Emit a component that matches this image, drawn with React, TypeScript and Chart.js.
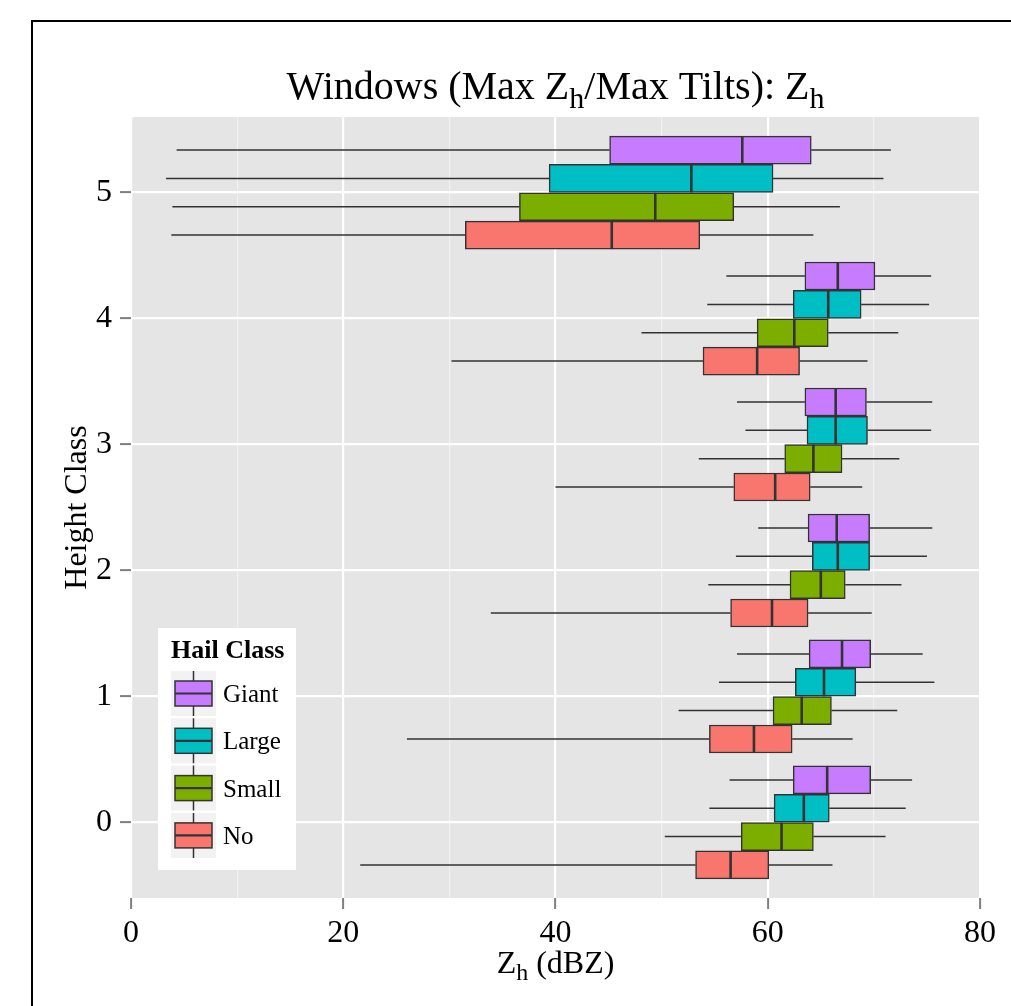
import React, { useEffect, useRef } from 'react';
import { Chart, registerables } from 'chart.js';

Chart.register(...registerables);

// ---------- data ----------
const heightClasses = [0, 1, 2, 3, 4, 5];
const hailClasses = ['No', 'Small', 'Large', 'Giant'];
const hailColors = ['#F8766D', '#7CAE00', '#00BFC4', '#C77CFF'];
const dodgeOffsets = [-0.3375, -0.1125, 0.1125, 0.3375];

// values per height class 0..5 (Zh, dBZ)
const noLow = [21.6, 26.0, 33.9, 40.0, 30.2, 3.8];
const noQ1 = [53.2, 54.5, 56.5, 56.8, 53.9, 31.5];
const noMed = [56.5, 58.7, 60.4, 60.7, 59.0, 45.3];
const noQ3 = [60.1, 62.3, 63.8, 64.0, 63.0, 53.6];
const noHigh = [66.1, 68.0, 69.8, 68.9, 69.4, 64.3];

const smallLow = [50.3, 51.6, 54.4, 53.5, 48.1, 3.9];
const smallQ1 = [57.5, 60.5, 62.1, 61.6, 59.0, 36.6];
const smallMed = [61.3, 63.2, 65.0, 64.3, 62.5, 49.4];
const smallQ3 = [64.3, 66.0, 67.3, 67.0, 65.7, 56.8];
const smallHigh = [71.1, 72.2, 72.6, 72.4, 72.3, 66.8];

const largeLow = [54.5, 55.4, 57.0, 57.9, 54.3, 3.3];
const largeQ1 = [60.6, 62.6, 64.2, 63.7, 62.4, 39.4];
const largeMed = [63.4, 65.3, 66.6, 66.4, 65.7, 52.8];
const largeQ3 = [65.8, 68.3, 69.6, 69.4, 68.8, 60.5];
const largeHigh = [73.0, 75.7, 75.0, 75.4, 75.2, 70.9];

const giantLow = [56.4, 57.1, 59.1, 57.1, 56.1, 4.3];
const giantQ1 = [62.4, 63.9, 63.8, 63.5, 63.5, 45.1];
const giantMed = [65.6, 67.0, 66.5, 66.4, 66.6, 57.6];
const giantQ3 = [69.7, 69.7, 69.6, 69.3, 70.1, 64.1];
const giantHigh = [73.6, 74.6, 75.5, 75.5, 75.4, 71.6];

const xMajorTicks = [0, 20, 40, 60, 80];
const xMinorTicks = [10, 30, 50, 70];
const yTicks = [0, 1, 2, 3, 4, 5];

const titleParts = [
  { t: 'Windows (Max Z' },
  { t: 'h', sub: true },
  { t: '/Max Tilts): Z' },
  { t: 'h', sub: true },
];
const xTitleParts = [{ t: 'Z' }, { t: 'h', sub: true }, { t: ' (dBZ)' }];
const yTitle = 'Height Class';
const legendTitle = 'Hail Class';
const legendOrder = [3, 2, 1, 0];

const stats = [
  { low: noLow, q1: noQ1, med: noMed, q3: noQ3, high: noHigh },
  { low: smallLow, q1: smallQ1, med: smallMed, q3: smallQ3, high: smallHigh },
  { low: largeLow, q1: largeQ1, med: largeMed, q3: largeQ3, high: largeHigh },
  { low: giantLow, q1: giantQ1, med: giantMed, q3: giantQ3, high: giantHigh },
];

const FONT = "'Liberation Serif', 'Times New Roman', serif";
const OUTLINE = '#333333';

function drawRich(ctx: CanvasRenderingContext2D, parts: any[], x: number, y: number, size: number) {
  const subSize = size * 0.75;
  let total = 0;
  const widths = parts.map((p) => {
    ctx.font = `${p.sub ? subSize : size}px ${FONT}`;
    const w = ctx.measureText(p.t).width;
    total += w;
    return w;
  });
  let cx = x - total / 2;
  ctx.textAlign = 'left';
  ctx.textBaseline = 'alphabetic';
  parts.forEach((p, i) => {
    ctx.font = `${p.sub ? subSize : size}px ${FONT}`;
    ctx.fillText(p.t, cx, p.sub ? y + size * 0.22 : y);
    cx += widths[i];
  });
}

const extrasPlugin = {
  id: 'boxExtras',
  beforeDraw(chart: any) {
    const { ctx, chartArea: a } = chart;
    ctx.save();
    ctx.fillStyle = '#FFFFFF';
    ctx.fillRect(0, 0, chart.width, chart.height);
    ctx.fillStyle = '#E5E5E5';
    ctx.fillRect(a.left, a.top, a.right - a.left, a.bottom - a.top);
    ctx.restore();
  },
  beforeDatasetsDraw(chart: any) {
    const { ctx } = chart;
    const xs = chart.scales.x;
    const ys = chart.scales.y;
    ctx.save();
    ctx.strokeStyle = OUTLINE;
    ctx.lineWidth = 1.5;
    stats.forEach((s, h) => {
      heightClasses.forEach((c, i) => {
        const py = ys.getPixelForValue(c + dodgeOffsets[h]);
        ctx.beginPath();
        ctx.moveTo(xs.getPixelForValue(s.low[i]), py);
        ctx.lineTo(xs.getPixelForValue(s.q1[i]), py);
        ctx.moveTo(xs.getPixelForValue(s.q3[i]), py);
        ctx.lineTo(xs.getPixelForValue(s.high[i]), py);
        ctx.stroke();
      });
    });
    ctx.restore();
  },
  afterDatasetsDraw(chart: any) {
    const { ctx } = chart;
    const xs = chart.scales.x;
    ctx.save();
    ctx.strokeStyle = OUTLINE;
    ctx.lineWidth = 2.6;
    stats.forEach((s, h) => {
      const meta = chart.getDatasetMeta(h);
      heightClasses.forEach((c, i) => {
        const el = meta.data[i];
        const half = el.height / 2;
        const px = xs.getPixelForValue(s.med[i]);
        ctx.beginPath();
        ctx.moveTo(px, el.y - half);
        ctx.lineTo(px, el.y + half);
        ctx.stroke();
      });
    });
    ctx.restore();
  },
  afterDraw(chart: any) {
    const { ctx, chartArea: a } = chart;
    const cx = (a.left + a.right) / 2;
    ctx.save();
    ctx.fillStyle = '#000000';
    // title
    drawRich(ctx, titleParts, cx, 99, 40);
    // x title
    drawRich(ctx, xTitleParts, cx, 973, 32);
    // y title
    ctx.save();
    ctx.translate(86, (a.top + a.bottom) / 2);
    ctx.rotate(-Math.PI / 2);
    ctx.font = `32px ${FONT}`;
    ctx.textAlign = 'center';
    ctx.textBaseline = 'alphabetic';
    ctx.fillText(yTitle, 0, 0);
    ctx.restore();

    // legend
    const lx = 158, ly = 628, lw = 138, lh = 242;
    ctx.fillStyle = '#FFFFFF';
    ctx.fillRect(lx, ly, lw, lh);
    ctx.fillStyle = '#000000';
    ctx.font = `bold 26px ${FONT}`;
    ctx.textAlign = 'left';
    ctx.fillText(legendTitle, 171, 658);
    const keyX = 171, keySize = 45, pitch = 47.3, keyTop0 = 671;
    legendOrder.forEach((h, k) => {
      const top = keyTop0 + k * pitch;
      ctx.fillStyle = '#F2F2F2';
      ctx.fillRect(keyX, top, keySize, keySize);
      const midX = keyX + keySize / 2;
      ctx.strokeStyle = OUTLINE;
      ctx.lineWidth = 1.5;
      ctx.beginPath();
      ctx.moveTo(midX, top);
      ctx.lineTo(midX, top + 10);
      ctx.moveTo(midX, top + 35);
      ctx.lineTo(midX, top + keySize);
      ctx.stroke();
      ctx.fillStyle = hailColors[h];
      ctx.fillRect(keyX + 4, top + 10, keySize - 8, 25);
      ctx.strokeRect(keyX + 4, top + 10, keySize - 8, 25);
      ctx.lineWidth = 2.2;
      ctx.beginPath();
      ctx.moveTo(keyX + 4, top + 22.5);
      ctx.lineTo(keyX + keySize - 4, top + 22.5);
      ctx.stroke();
      ctx.fillStyle = '#000000';
      ctx.font = `25px ${FONT}`;
      ctx.fillText(hailClasses[h], 223, top + 31);
    });
    ctx.restore();
  },
};

export default function App() {
  const ref = useRef<HTMLCanvasElement>(null);
  useEffect(() => {
    const datasets = stats.map((s, h) => ({
      type: 'bar' as const,
      label: hailClasses[h],
      data: heightClasses.map((c, i) => ({ x: [s.q1[i], s.q3[i]], y: c + dodgeOffsets[h] })),
      backgroundColor: hailColors[h],
      borderColor: OUTLINE,
      borderWidth: 1.5,
      borderSkipped: false,
      barThickness: 28,
      grouped: false,
    }));
    const isMajor = (v: number) => xMajorTicks.includes(v);
    const chart = new Chart(ref.current as HTMLCanvasElement, {
      type: 'bar',
      data: { datasets: datasets as any },
      plugins: [extrasPlugin],
      options: {
        indexAxis: 'y',
        responsive: false,
        animation: false,
        devicePixelRatio: 1,
        layout: { padding: { left: 0, right: 31, top: 117, bottom: 48 } },
        plugins: { legend: { display: false }, title: { display: false }, tooltip: { enabled: false } },
        scales: {
          x: {
            type: 'linear',
            min: 0,
            max: 80,
            offset: false,
            afterBuildTicks: (s: any) => {
              s.ticks = [...xMajorTicks, ...xMinorTicks].sort((a, b) => a - b).map((v) => ({ value: v }));
            },
            afterFit: (s: any) => {
              s.height = 60;
            },
            border: { display: false },
            grid: {
              offset: false,
              color: (c: any) => (c.tick && isMajor(c.tick.value) ? '#FFFFFF' : '#F2F2F2'),
              lineWidth: (c: any) => (c.tick && isMajor(c.tick.value) ? 2.2 : 1.1),
              tickColor: (c: any) => (c.tick && isMajor(c.tick.value) ? '#7F7F7F' : 'rgba(0,0,0,0)'),
              tickLength: 11,
              tickWidth: 2,
            },
            ticks: {
              autoSkip: false,
              maxRotation: 0,
              color: '#000000',
              font: { family: FONT, size: 32 },
              padding: 5,
              callback: (v: any) => (isMajor(Number(v)) ? String(v) : ''),
            },
          },
          y: {
            type: 'linear',
            min: -0.6,
            max: 5.6,
            offset: false,
            afterBuildTicks: (s: any) => {
              s.ticks = yTicks.map((v) => ({ value: v }));
            },
            afterFit: (s: any) => {
              s.width = 131;
            },
            border: { display: false },
            grid: {
              offset: false,
              color: '#FFFFFF',
              lineWidth: 2.2,
              tickColor: '#7F7F7F',
              tickLength: 11,
              tickWidth: 2,
            },
            ticks: {
              autoSkip: false,
              color: '#000000',
              font: { family: FONT, size: 32 },
              padding: 8,
              callback: (v: any) => String(v),
            },
          },
        },
      } as any,
    });
    return () => chart.destroy();
  }, []);
  return (
    <div
      style={{
        position: 'absolute',
        left: 0,
        top: 0,
        width: 1011,
        height: 1006,
        overflow: 'hidden',
        background: '#FFFFFF',
      }}
    >
      <canvas
        ref={ref}
        width={1011}
        height={1006}
        style={{ position: 'absolute', left: 0, top: 0, width: 1011, height: 1006 }}
      />
      <div
        style={{
          position: 'absolute',
          left: 31,
          top: 20,
          width: 1100,
          height: 1100,
          borderLeft: '2px solid #000000',
          borderTop: '2px solid #000000',
        }}
      />
    </div>
  );
}
